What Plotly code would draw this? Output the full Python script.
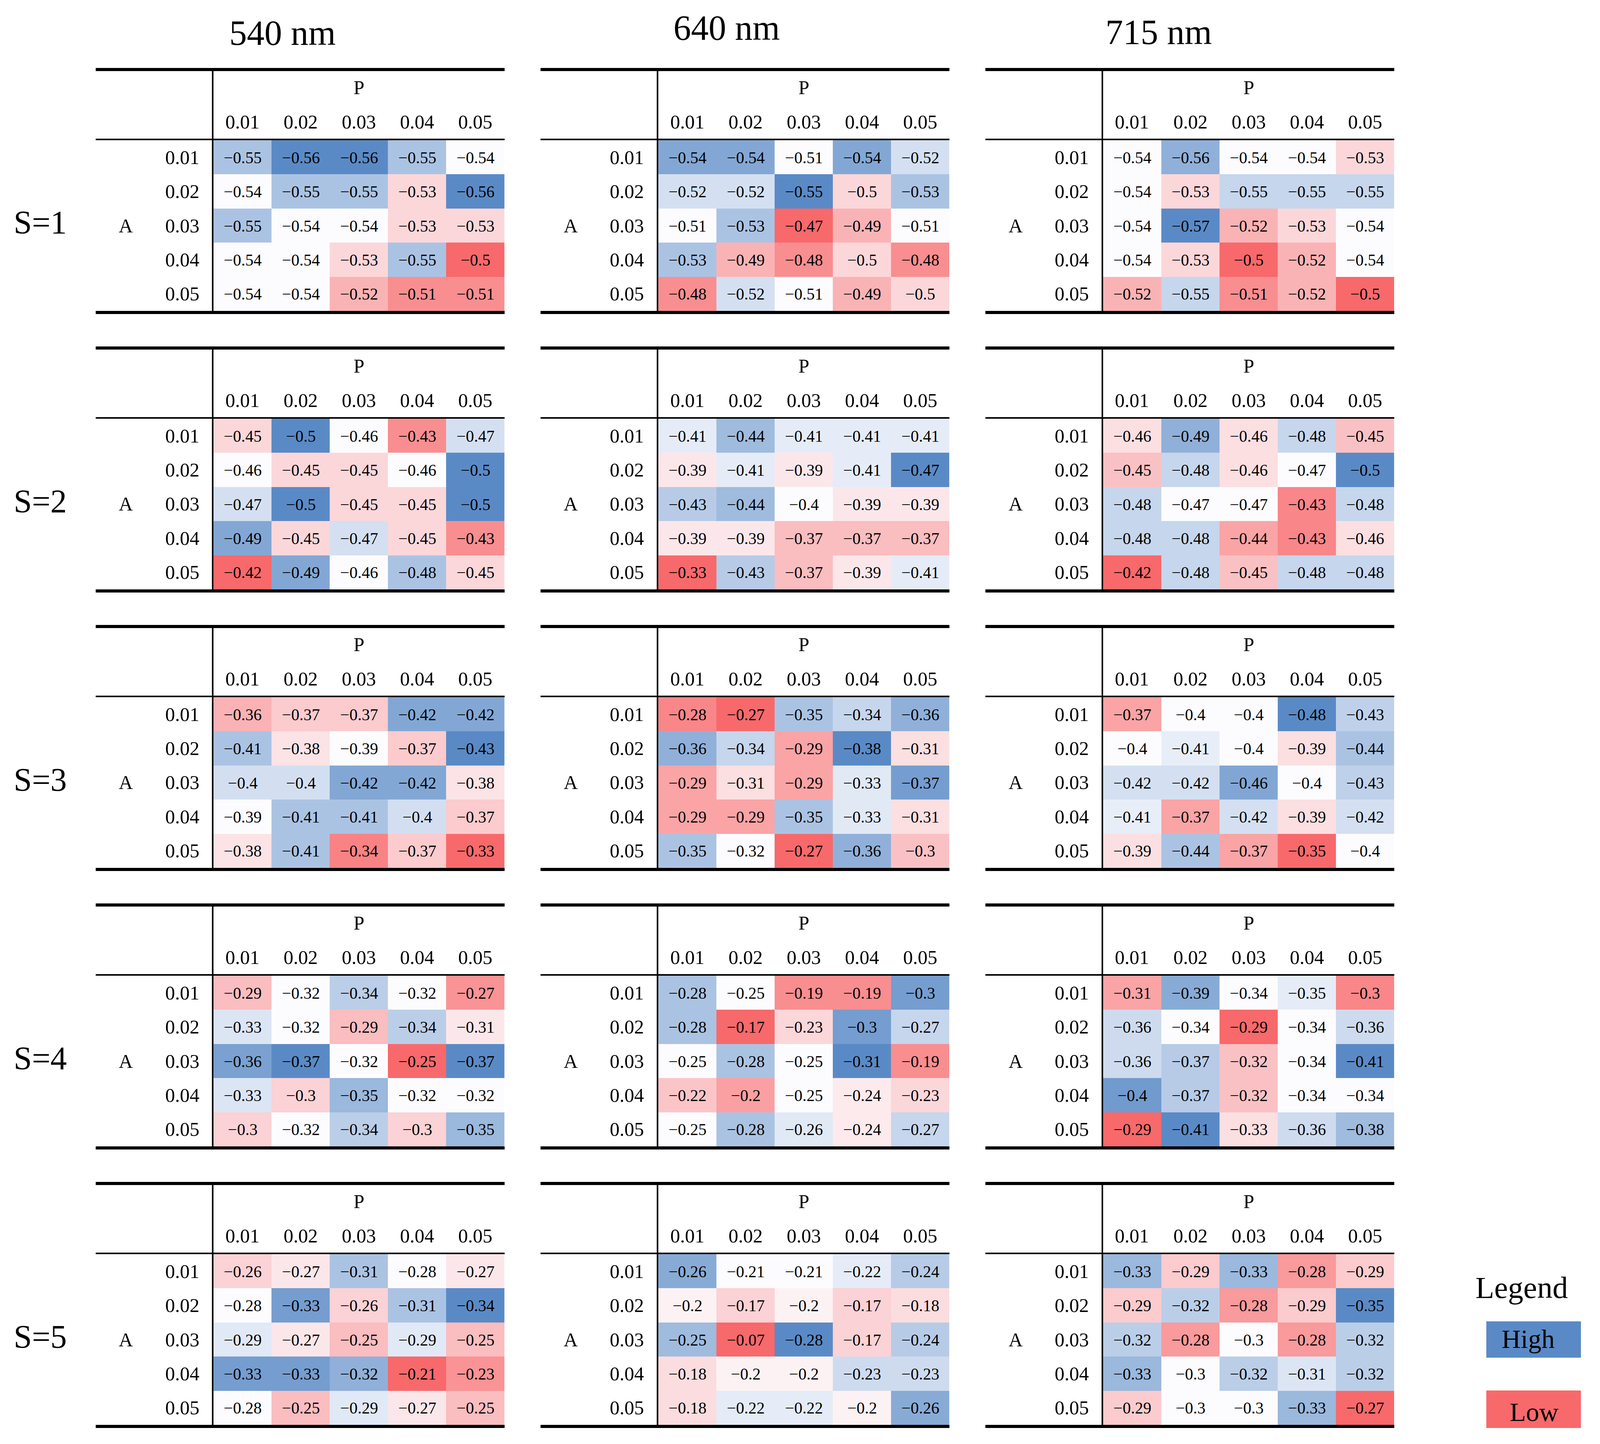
import numpy as np
import plotly.graph_objects as go

# ---------------- data ----------------
WAVELENGTHS = ["540 nm", "640 nm", "715 nm"]
S_LABELS = ["S=1", "S=2", "S=3", "S=4", "S=5"]
P_LABELS = ["0.01", "0.02", "0.03", "0.04", "0.05"]
A_LABELS = ["0.01", "0.02", "0.03", "0.04", "0.05"]
LEGEND_LABELS = ["High", "Low"]

nm540_s1 = [[-0.55, -0.56, -0.56, -0.55, -0.54],
            [-0.54, -0.55, -0.55, -0.53, -0.56],
            [-0.55, -0.54, -0.54, -0.53, -0.53],
            [-0.54, -0.54, -0.53, -0.55, -0.50],
            [-0.54, -0.54, -0.52, -0.51, -0.51]]
nm540_s2 = [[-0.45, -0.50, -0.46, -0.43, -0.47],
            [-0.46, -0.45, -0.45, -0.46, -0.50],
            [-0.47, -0.50, -0.45, -0.45, -0.50],
            [-0.49, -0.45, -0.47, -0.45, -0.43],
            [-0.42, -0.49, -0.46, -0.48, -0.45]]
nm540_s3 = [[-0.36, -0.37, -0.37, -0.42, -0.42],
            [-0.41, -0.38, -0.39, -0.37, -0.43],
            [-0.40, -0.40, -0.42, -0.42, -0.38],
            [-0.39, -0.41, -0.41, -0.40, -0.37],
            [-0.38, -0.41, -0.34, -0.37, -0.33]]
nm540_s4 = [[-0.29, -0.32, -0.34, -0.32, -0.27],
            [-0.33, -0.32, -0.29, -0.34, -0.31],
            [-0.36, -0.37, -0.32, -0.25, -0.37],
            [-0.33, -0.30, -0.35, -0.32, -0.32],
            [-0.30, -0.32, -0.34, -0.30, -0.35]]
nm540_s5 = [[-0.26, -0.27, -0.31, -0.28, -0.27],
            [-0.28, -0.33, -0.26, -0.31, -0.34],
            [-0.29, -0.27, -0.25, -0.29, -0.25],
            [-0.33, -0.33, -0.32, -0.21, -0.23],
            [-0.28, -0.25, -0.29, -0.27, -0.25]]

nm640_s1 = [[-0.54, -0.54, -0.51, -0.54, -0.52],
            [-0.52, -0.52, -0.55, -0.50, -0.53],
            [-0.51, -0.53, -0.47, -0.49, -0.51],
            [-0.53, -0.49, -0.48, -0.50, -0.48],
            [-0.48, -0.52, -0.51, -0.49, -0.50]]
nm640_s2 = [[-0.41, -0.44, -0.41, -0.41, -0.41],
            [-0.39, -0.41, -0.39, -0.41, -0.47],
            [-0.43, -0.44, -0.40, -0.39, -0.39],
            [-0.39, -0.39, -0.37, -0.37, -0.37],
            [-0.33, -0.43, -0.37, -0.39, -0.41]]
nm640_s3 = [[-0.28, -0.27, -0.35, -0.34, -0.36],
            [-0.36, -0.34, -0.29, -0.38, -0.31],
            [-0.29, -0.31, -0.29, -0.33, -0.37],
            [-0.29, -0.29, -0.35, -0.33, -0.31],
            [-0.35, -0.32, -0.27, -0.36, -0.30]]
nm640_s4 = [[-0.28, -0.25, -0.19, -0.19, -0.30],
            [-0.28, -0.17, -0.23, -0.30, -0.27],
            [-0.25, -0.28, -0.25, -0.31, -0.19],
            [-0.22, -0.20, -0.25, -0.24, -0.23],
            [-0.25, -0.28, -0.26, -0.24, -0.27]]
nm640_s5 = [[-0.26, -0.21, -0.21, -0.22, -0.24],
            [-0.20, -0.17, -0.20, -0.17, -0.18],
            [-0.25, -0.07, -0.28, -0.17, -0.24],
            [-0.18, -0.20, -0.20, -0.23, -0.23],
            [-0.18, -0.22, -0.22, -0.20, -0.26]]

nm715_s1 = [[-0.54, -0.56, -0.54, -0.54, -0.53],
            [-0.54, -0.53, -0.55, -0.55, -0.55],
            [-0.54, -0.57, -0.52, -0.53, -0.54],
            [-0.54, -0.53, -0.50, -0.52, -0.54],
            [-0.52, -0.55, -0.51, -0.52, -0.50]]
nm715_s2 = [[-0.46, -0.49, -0.46, -0.48, -0.45],
            [-0.45, -0.48, -0.46, -0.47, -0.50],
            [-0.48, -0.47, -0.47, -0.43, -0.48],
            [-0.48, -0.48, -0.44, -0.43, -0.46],
            [-0.42, -0.48, -0.45, -0.48, -0.48]]
nm715_s3 = [[-0.37, -0.40, -0.40, -0.48, -0.43],
            [-0.40, -0.41, -0.40, -0.39, -0.44],
            [-0.42, -0.42, -0.46, -0.40, -0.43],
            [-0.41, -0.37, -0.42, -0.39, -0.42],
            [-0.39, -0.44, -0.37, -0.35, -0.40]]
nm715_s4 = [[-0.31, -0.39, -0.34, -0.35, -0.30],
            [-0.36, -0.34, -0.29, -0.34, -0.36],
            [-0.36, -0.37, -0.32, -0.34, -0.41],
            [-0.40, -0.37, -0.32, -0.34, -0.34],
            [-0.29, -0.41, -0.33, -0.36, -0.38]]
nm715_s5 = [[-0.33, -0.29, -0.33, -0.28, -0.29],
            [-0.29, -0.32, -0.28, -0.29, -0.35],
            [-0.32, -0.28, -0.30, -0.28, -0.32],
            [-0.33, -0.30, -0.32, -0.31, -0.32],
            [-0.29, -0.30, -0.30, -0.33, -0.27]]

TABLES = [
    [nm540_s1, nm540_s2, nm540_s3, nm540_s4, nm540_s5],
    [nm640_s1, nm640_s2, nm640_s3, nm640_s4, nm640_s5],
    [nm715_s1, nm715_s2, nm715_s3, nm715_s4, nm715_s5],
]

# ---------------- style / layout ----------------
REF_W, REF_H = 4363, 3697          # reference picture size (layout grid)
FIG_W, FIG_H = 4096, 3697          # browser viewport actually available
FONT = "Liberation Serif, Times New Roman, serif"
BLUE, WHITE, RED = "#5A8AC6", "#FCFCFF", "#F8696B"

COL_LEFT = [261, 1474, 2687]
COL_DIV = [580, 1793, 3006]
COL_RIGHT = [1376, 2589, 3802]
ROW_STEP = 713
TOP0, HDR0, DATA_TOP0, DATA_BOT0, BOT0 = 178, 357, 359, 796, 800
TITLE_POS = [(771, 85), (1982, 71), (3160, 82)]


def px(x):
    return x / REF_W


def py(y):
    return 1 - y / REF_H


def fmt(v):
    s = f"{abs(v):g}"
    return ("\u2212" + s) if v < 0 else s


fig = go.Figure()
annotations = []
shapes = []
layout_axes = {}

k = 0
for c in range(3):
    for r in range(5):
        k += 1
        z = np.array(TABLES[c][r], dtype=float)
        zmin, zmax = float(z.min()), float(z.max())
        med = float(np.median(z))
        m = (med - zmin) / (zmax - zmin) if zmax > zmin else 0.5
        m = min(max(m, 0.001), 0.999)
        cscale = [[0, BLUE], [m, WHITE], [1, RED]]
        xa = "x" if k == 1 else f"x{k}"
        ya = "y" if k == 1 else f"y{k}"
        text = [[fmt(v) for v in row] for row in TABLES[c][r]]
        fig.add_trace(go.Heatmap(
            z=z, x=list(range(len(P_LABELS))), y=list(range(len(A_LABELS))),
            text=text, texttemplate="%{text}",
            textfont=dict(family=FONT, size=42, color="black"),
            colorscale=cscale, zmin=zmin, zmax=zmax, showscale=False,
            hoverinfo="skip", xaxis=xa, yaxis=ya, xgap=0, ygap=0,
        ))
        off = ROW_STEP * r
        dx0, dx1 = COL_DIV[c] + 2, COL_RIGHT[c]
        dy0, dy1 = DATA_TOP0 + off, DATA_BOT0 + off
        axn = "" if k == 1 else str(k)
        common = dict(showgrid=False, zeroline=False, showline=False,
                      showticklabels=False, ticks="", fixedrange=True)
        layout_axes[f"xaxis{axn}"] = dict(domain=[px(dx0), px(dx1)], anchor=ya,
                                         range=[-0.5, 4.5], **common)
        layout_axes[f"yaxis{axn}"] = dict(domain=[py(dy1), py(dy0)], anchor=xa,
                                         range=[4.5, -0.5], **common)

        L, D, R = COL_LEFT[c], COL_DIV[c], COL_RIGHT[c]
        # rules of the table
        for yy, lw in ((TOP0, 8), (HDR0, 4), (BOT0, 8)):
            shapes.append(dict(type="line", xref="paper", yref="paper",
                               x0=px(L), x1=px(R), y0=py(yy + off), y1=py(yy + off),
                               line=dict(color="black", width=lw)))
        shapes.append(dict(type="line", xref="paper", yref="paper",
                           x0=px(D), x1=px(D), y0=py(TOP0 + off), y1=py(BOT0 + off),
                           line=dict(color="black", width=4)))
        # header texts
        annotations.append(dict(text="P", xref="paper", yref="paper",
                                x=px((dx0 + dx1) / 2), y=py(224 + off),
                                xanchor="center", yanchor="middle", showarrow=False,
                                font=dict(family=FONT, size=50, color="black")))
        for i, p in enumerate(P_LABELS):
            annotations.append(dict(text=p, xref=xa, yref="paper", x=i, y=py(312 + off),
                                    xanchor="center", yanchor="middle", showarrow=False,
                                    font=dict(family=FONT, size=50, color="black")))
        for j, a in enumerate(A_LABELS):
            annotations.append(dict(text=a, xref="paper", yref=ya, x=px(D - 34), y=j,
                                    xanchor="right", yanchor="middle", showarrow=False,
                                    font=dict(family=FONT, size=50, color="black")))
        annotations.append(dict(text="A", xref="paper", yref=ya, x=px(L + 82), y=2,
                                xanchor="center", yanchor="middle", showarrow=False,
                                font=dict(family=FONT, size=50, color="black")))

# column titles
for c, t in enumerate(WAVELENGTHS):
    tx, ty = TITLE_POS[c]
    annotations.append(dict(text=t, xref="paper", yref="paper", x=px(tx), y=py(ty),
                            xanchor="center", yanchor="middle", showarrow=False,
                            font=dict(family=FONT, size=90, color="black")))
# row titles
for r, s in enumerate(S_LABELS):
    annotations.append(dict(text=s, xref="paper", yref="paper", x=px(110),
                            y=py(570 + ROW_STEP * r), xanchor="center", yanchor="middle",
                            showarrow=False, font=dict(family=FONT, size=84, color="black")))

# legend
annotations.append(dict(text="Legend", xref="paper", yref="paper", x=px(4149), y=py(3296),
                        xanchor="center", yanchor="middle", showarrow=False,
                        font=dict(family=FONT, size=79, color="black")))
LEG_BOXES = [(3383, 3476, BLUE, 4167, 3428), (3560, 3656, RED, 4183, 3615)]
for lab, (y0, y1, col, tx, ty) in zip(LEGEND_LABELS, LEG_BOXES):
    shapes.append(dict(type="rect", xref="paper", yref="paper",
                       x0=px(4053), x1=px(4311), y0=py(y1), y1=py(y0),
                       fillcolor=col, line=dict(width=0), layer="below"))
    annotations.append(dict(text=lab, xref="paper", yref="paper", x=px(tx), y=py(ty),
                            xanchor="center", yanchor="middle", showarrow=False,
                            font=dict(family=FONT, size=68, color="black")))

fig.update_layout(
    width=FIG_W, height=FIG_H, margin=dict(l=0, r=0, t=0, b=0, pad=0),
    paper_bgcolor="white", plot_bgcolor="white",
    showlegend=False, annotations=annotations, shapes=shapes,
    **layout_axes,
)

fig.write_html("out.html", config={"displayModeBar": False},
               post_script="document.body.style.margin='0px';")
